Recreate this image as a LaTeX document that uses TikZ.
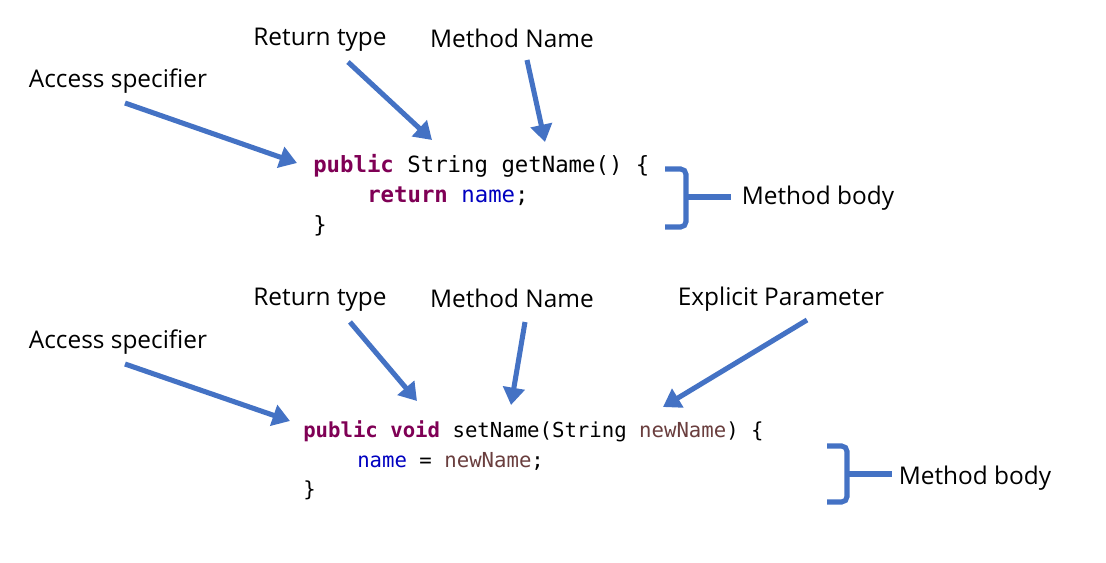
\documentclass[tikz,border=0pt]{standalone}
\usepackage{fontspec}
\setmainfont{Open Sans}
\newfontfamily\codefont{DejaVu Sans Mono}
\usetikzlibrary{arrows.meta}
\definecolor{arrowblue}{HTML}{4472C4}
\definecolor{kw}{HTML}{7F0055}
\definecolor{fld}{HTML}{0000C0}
\definecolor{par}{HTML}{6A3E3E}
\begin{document}
\begin{tikzpicture}[x=0.75pt,y=-0.75pt,
  lbl/.style={inner sep=0pt,yshift=-1.8pt,font=\fontsize{18.3}{22}\selectfont},
  codeA/.style={inner sep=0pt,anchor=base west,font=\codefont\fontsize{16.75}{20}\selectfont},
  codeB/.style={inner sep=0pt,anchor=base west,font=\codefont\fontsize{15.5}{18}\selectfont},
  arr/.style={draw=arrowblue,line width=3.8pt,-{Triangle[length=13pt,width=16pt]}},
  brace/.style={draw=arrowblue,line width=3.8pt,rounded corners=4pt},
]
\useasboundingbox (0,0) rectangle (1106,563);
% ---------- top method ----------
\node[lbl] (acc1) at (118,79) {Access specifier};
\node[lbl] (ret1) at (320,37) {Return type};
\node[lbl] (nam1) at (512,36) {Method Name};
\node[lbl] (body1) at (818,196) {Method body};

\node[codeA] (c1a) at (313,172) {\textcolor{kw}{\bfseries public} String getName() \{};
\node[codeA] (c1b) at (367,202) {\textcolor{kw}{\bfseries return} \textcolor{fld}{name};};
\node[codeA] (c1c) at (313,232) {\}};

\coordinate (acc1s) at (125,103);
\coordinate (acc1t) at (297,163);
\coordinate (ret1s) at (348,62);
\coordinate (ret1t) at (432,140);
\coordinate (nam1s) at (527,60);
\coordinate (nam1t) at (545,142);
\draw[arr] (acc1s) -- (acc1t);
\draw[arr] (ret1s) -- (ret1t);
\draw[arr] (nam1s) -- (nam1t);

\coordinate (b1top) at (665,169);
\coordinate (b1bot) at (665,227);
\coordinate (b1mid) at (686,197);
\coordinate (b1end) at (731,197);
\draw[brace] (b1top) -- (686,169) -- (686,227) -- (b1bot);
\draw[brace] (b1mid) -- (b1end);

% ---------- bottom method ----------
\node[lbl] (acc2) at (118,340) {Access specifier};
\node[lbl] (ret2) at (320,297) {Return type};
\node[lbl] (nam2) at (512,296) {Method Name};
\node[lbl] (exp2) at (781,297) {Explicit Parameter};
\node[lbl] (body2) at (975,476) {Method body};

\node[codeB] (c2a) at (303,437) {\textcolor{kw}{\bfseries public void} setName(String \textcolor{par}{newName}) \{};
\node[codeB] (c2b) at (357,467) {\textcolor{fld}{name} = \textcolor{par}{newName};};
\node[codeB] (c2c) at (303,496) {\}};

\coordinate (acc2s) at (125,364);
\coordinate (acc2t) at (290,421);
\coordinate (ret2s) at (350,322);
\coordinate (ret2t) at (417,401);
\coordinate (nam2s) at (525,322);
\coordinate (nam2t) at (511,405);
\coordinate (exp2s) at (807,320);
\coordinate (exp2t) at (663,407);
\draw[arr] (acc2s) -- (acc2t);
\draw[arr] (ret2s) -- (ret2t);
\draw[arr] (nam2s) -- (nam2t);
\draw[arr] (exp2s) -- (exp2t);

\coordinate (b2top) at (827,446);
\coordinate (b2bot) at (827,502);
\coordinate (b2mid) at (847,474);
\coordinate (b2end) at (892,474);
\draw[brace] (b2top) -- (847,446) -- (847,502) -- (b2bot);
\draw[brace] (b2mid) -- (b2end);
\end{tikzpicture}
\end{document}
